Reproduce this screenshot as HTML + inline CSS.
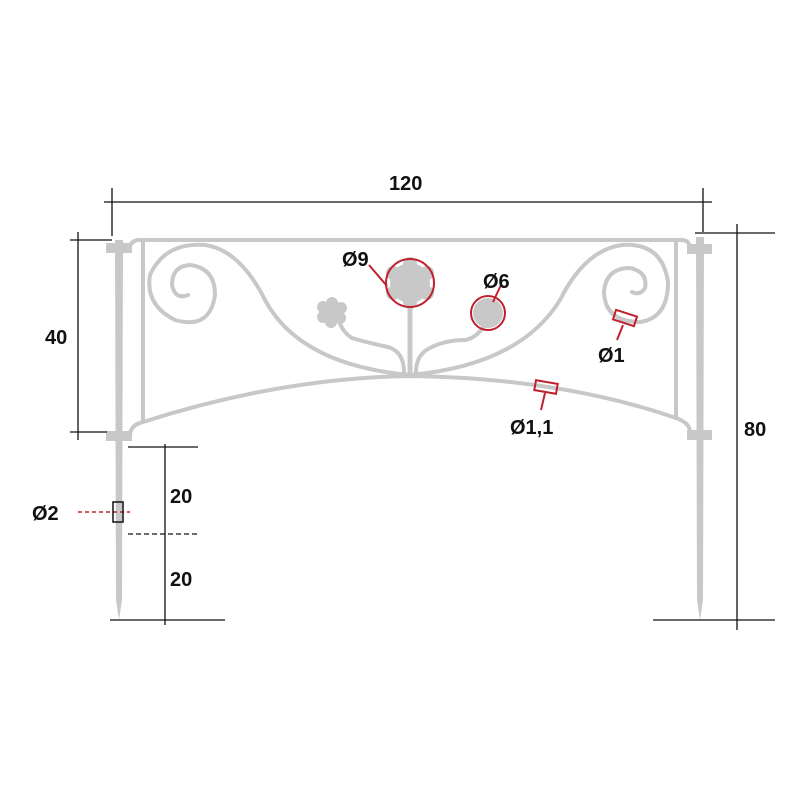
<!DOCTYPE html>
<html><head><meta charset="utf-8"><style>
html,body{margin:0;padding:0;background:#fff}
svg{display:block}
text{font-family:"Liberation Sans",Arial,sans-serif;font-weight:bold;font-size:20px;fill:#111}
</style></head><body>
<svg width="800" height="800" viewBox="0 0 800 800">
<g stroke="#c8c8c8" fill="none" stroke-linecap="round">
<path d="M115 240 L123 240 L122 600 L119 620 L116 600 Z" fill="#c8c8c8" stroke="none"/>
<path d="M696 237 L704 237 L703 600 L700 620 L697 600 Z" fill="#c8c8c8" stroke="none"/>
<rect x="106" y="243" width="26" height="10" fill="#c8c8c8" stroke="none"/>
<rect x="106" y="431" width="26" height="10" fill="#c8c8c8" stroke="none"/>
<rect x="687" y="244" width="25" height="10" fill="#c8c8c8" stroke="none"/>
<rect x="687" y="430" width="25" height="10" fill="#c8c8c8" stroke="none"/>
<path d="M129 250 Q130 240 140 240 L682 240 Q690 240 690 250" stroke-width="4"/>
<path d="M143 242 L143 420" stroke-width="4"/>
<path d="M676 242 L676 418" stroke-width="4"/>
<path d="M130 436 Q130 425 143 422 Q280 378 410 376 Q560 378 676 418 Q690 423 690 432" stroke-width="4"/>
<path d="M410 375 Q300 365 265 300 Q240 250 205 245 Q165 242 150 275 Q145 305 175 320 Q210 330 215 295 Q215 268 190 265 Q172 266 172 285 Q175 300 188 295" stroke-width="4"/>
<path d="M410 375 Q520 365 560 300 Q585 250 622 245 Q662 242 668 282 Q668 318 640 322 Q605 322 604 292 Q606 268 630 268 Q648 272 645 288 Q640 296 632 292" stroke-width="4"/>
<path d="M410 300 L410 376" stroke-width="5"/>
<path d="M404 375 Q405 352 388 347 Q365 342 352 338 Q342 332 338 318" stroke-width="4"/>
<path d="M416 375 Q415 355 430 348 Q445 340 465 340 Q478 338 488 320" stroke-width="4"/>
</g>
<g fill="#c8c8c8">
<circle cx="410" cy="283" r="20"/>
<circle cx="410" cy="264" r="7"/><circle cx="427" cy="273" r="7"/><circle cx="427" cy="293" r="7"/><circle cx="410" cy="302" r="7"/><circle cx="393" cy="293" r="7"/><circle cx="393" cy="273" r="7"/>
<circle cx="332" cy="312" r="11"/>
<circle cx="332" cy="303" r="6"/><circle cx="341" cy="308" r="6"/><circle cx="340" cy="318" r="6"/><circle cx="331" cy="322" r="6"/><circle cx="323" cy="317" r="6"/><circle cx="323" cy="307" r="6"/>
<circle cx="488" cy="313" r="15"/>
</g>
<g stroke="#c0202e" fill="none" stroke-width="2">
<circle cx="410" cy="283" r="24"/>
<line x1="387" y1="286" x2="369" y2="265"/>
<circle cx="488" cy="313" r="17"/>
<line x1="493" y1="302" x2="501" y2="285"/>
<rect x="614" y="313" width="22" height="10" transform="rotate(18 625 318)"/>
<line x1="623" y1="325" x2="617" y2="340"/>
<rect x="535" y="382" width="22" height="10" transform="rotate(10 546 387)"/>
<line x1="545" y1="393" x2="541" y2="410"/>
<line x1="78" y1="512" x2="130" y2="512" stroke-dasharray="4,3" stroke-width="1.5"/>
</g>
<rect x="113" y="502" width="10" height="20" fill="none" stroke="#111" stroke-width="1.5"/>
<g stroke="#111" stroke-width="1.3" fill="none">
<line x1="104" y1="202" x2="712" y2="202"/>
<line x1="112" y1="188" x2="112" y2="236"/>
<line x1="703" y1="188" x2="703" y2="232"/>
<line x1="78" y1="232" x2="78" y2="440"/>
<line x1="70" y1="240" x2="112" y2="240"/>
<line x1="70" y1="432" x2="107" y2="432"/>
<line x1="737" y1="224" x2="737" y2="630"/>
<line x1="695" y1="233" x2="775" y2="233"/>
<line x1="653" y1="620" x2="775" y2="620"/>
<line x1="165" y1="444" x2="165" y2="625"/>
<line x1="128" y1="447" x2="198" y2="447"/>
<line x1="110" y1="620" x2="225" y2="620"/>
<line x1="128" y1="534" x2="200" y2="534" stroke-dasharray="5,3"/>
</g>
<text x="389" y="190">120</text>
<text x="45" y="344">40</text>
<text x="744" y="436">80</text>
<text x="170" y="503">20</text>
<text x="170" y="586">20</text>
<text x="32" y="520">Ø2</text>
<text x="342" y="266">Ø9</text>
<text x="483" y="288">Ø6</text>
<text x="598" y="362">Ø1</text>
<text x="510" y="434">Ø1,1</text>
</svg>
</body></html>
